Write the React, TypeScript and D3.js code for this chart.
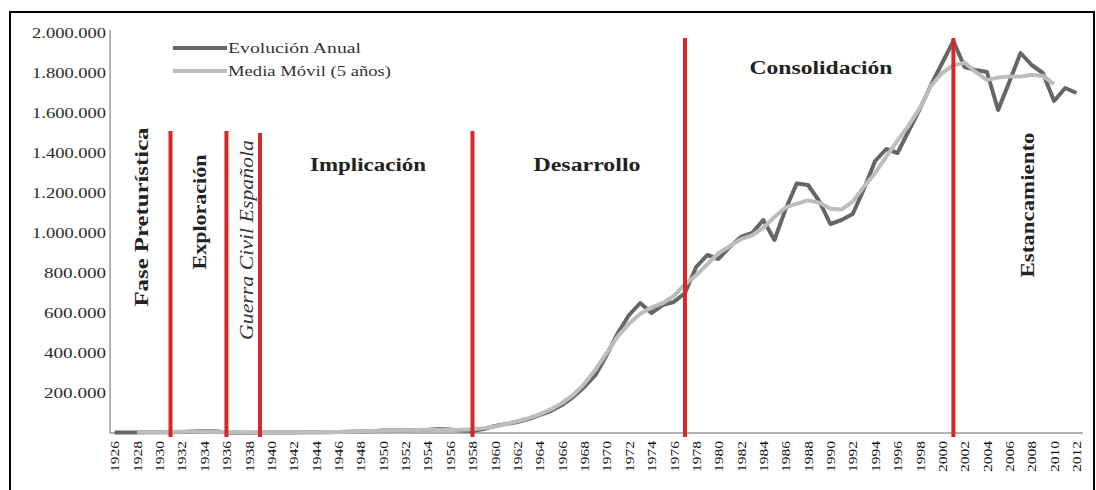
import React from "react";
import * as d3 from "d3";

const years: number[] = d3.range(1926, 2013);

// Annual tourist arrivals
const annualValues: number[] = [
  2000, 2500, 3000, 3500, 4000, 4000, 5000, 8000, 10000, 9000, // 1926-1935
  3000, 1000, 1000, 2000, 3000, 3000, 3000, 4000, 4000, 4000, // 1936-1945
  5000, 6000, 7000, 9000, 12000, 13000, 14000, 15000, 16000, 20000, // 1946-1955
  18000, 12000, 10000, 20000, 35000, 45000, 55000, 70000, 90000, 110000, // 1956-1965
  140000, 180000, 230000, 290000, 390000, 500000, 590000, 650000, 600000, 640000, // 1966-1975
  655000, 700000, 830000, 890000, 870000, 930000, 980000, 1000000, 1065000, 965000, // 1976-1985
  1120000, 1248000, 1240000, 1160000, 1045000, 1065000, 1095000, 1220000, 1360000, 1420000, // 1986-1995
  1400000, 1510000, 1620000, 1740000, 1850000, 1960000, 1830000, 1815000, 1805000, 1615000, // 1996-2005
  1755000, 1900000, 1840000, 1800000, 1660000, 1725000, 1700000, // 2006-2012
];

// 5-year moving average, years 1928-2010
const maYears: number[] = d3.range(1928, 2011);
const maValues: number[] = [
  3000, 3400, 3900, 4900, 6200, 7200, 7000, 6200, 4800, 3200, // 1928-1937
  2000, 2000, 2400, 3000, 3400, 3600, 4000, 4600, 5200, 6200, // 1938-1947
  7800, 9400, 11000, 12600, 14000, 15600, 16600, 16200, 15200, 16000, // 1948-1957
  19000, 24400, 33000, 45000, 59000, 74000, 93000, 118000, 150000, 190000, // 1958-1967
  246000, 318000, 400000, 484000, 546000, 596000, 627000, 649000, 685000, 743000, // 1968-1977
  789000, 844000, 900000, 934000, 969000, 988000, 1026000, 1080000, 1128000, 1147000, // 1978-1987
  1163000, 1152000, 1121000, 1117000, 1157000, 1232000, 1299000, 1382000, 1462000, 1538000, // 1988-1997
  1624000, 1736000, 1800000, 1839000, 1852000, 1805000, 1764000, 1778000, 1783000, 1782000, // 1998-2007
  1791000, 1785000, 1745000, // 2008-2010
];

const yTicks: number[] = [200000, 400000, 600000, 800000, 1000000, 1200000, 1400000, 1600000, 1800000, 2000000];
const xTickYears: number[] = d3.range(1926, 2013, 2);

// Phase boundaries (year, top of the marker line in value units)
const phaseYears: number[] = [1931, 1936, 1939, 1958, 1977, 2001];
const phaseTops: number[] = [1510000, 1510000, 1500000, 1510000, 1975000, 1975000];

const legendLabels: string[] = ["Evolución Anual", "Media Móvil (5 años)"];

const fmt = (v: number) => d3.format(",")(v).replace(/,/g, ".");

export default function App() {
  const W = 1096;
  const H = 490;
  const x = d3.scaleBand<number>().domain(years).range([109, 1082]).padding(0);
  const xc = (yr: number) => (x(yr) as number) + x.bandwidth() / 2;
  const y = d3.scaleLinear().domain([0, 2000000]).range([433, 33]);

  const line = d3
    .line<[number, number]>()
    .x((d) => xc(d[0]))
    .y((d) => y(d[1]))
    .curve(d3.curveLinear);

  const annualPts: [number, number][] = years.map((yr, i) => [yr, annualValues[i]]);
  const maPts: [number, number][] = maYears.map((yr, i) => [yr, maValues[i]]);

  const serif = "'Liberation Serif', 'DejaVu Serif', serif";
  const darkColor = "#666666";
  const lightColor = "#bdbdbd";
  const red = "#d8262c";

  const labelLen = (s: string) => (s.length >= 9 ? 74 : 62);

  return (
    <svg
      width={W}
      height={H}
      style={{ position: "absolute", left: 0, top: 0, background: "#fff", fontFamily: serif }}
    >
      <rect x={0} y={0} width={W} height={H} fill="#fff" />
      {/* outer frame */}
      <rect x={10} y={12} width={1084} height={490} fill="none" stroke="#000" strokeWidth={2} />

      {/* axes lines */}
      <line x1={110} x2={110} y1={30} y2={433} stroke="#9a9a9a" strokeWidth={1.5} />
      <line x1={110} x2={1083} y1={433} y2={433} stroke="#9a9a9a" strokeWidth={1.5} />

      {/* y tick labels */}
      {yTicks.map((t) => (
        <text
          key={t}
          x={106}
          y={y(t)}
          dy="0.35em"
          textAnchor="end"
          fontSize={15}
          fill="#2a2a2a"
          textLength={labelLen(fmt(t))}
          lengthAdjust="spacingAndGlyphs"
        >
          {fmt(t)}
        </text>
      ))}

      {/* x tick labels */}
      {xTickYears.map((yr) => (
        <text
          key={yr}
          transform={`translate(${xc(yr)},441) rotate(-90)`}
          dy="0.35em"
          textAnchor="end"
          fontSize={13.5}
          fill="#111"
          textLength={31}
          lengthAdjust="spacingAndGlyphs"
        >
          {yr}
        </text>
      ))}

      {/* series */}
      <path d={line(annualPts) || ""} fill="none" stroke={darkColor} strokeWidth={4} strokeLinejoin="round" />
      <path d={line(maPts) || ""} fill="none" stroke={lightColor} strokeWidth={4} strokeLinejoin="round" />

      {/* phase markers */}
      {phaseYears.map((yr, i) => (
        <line
          key={yr}
          x1={xc(yr)}
          x2={xc(yr)}
          y1={y(phaseTops[i])}
          y2={437}
          stroke={red}
          strokeWidth={4}
        />
      ))}

      {/* legend */}
      <line x1={173} x2={227} y1={48} y2={48} stroke={darkColor} strokeWidth={4} />
      <line x1={173} x2={227} y1={71} y2={71} stroke={lightColor} strokeWidth={4} />
      <text x={228} y={48} dy="0.35em" fontSize={15} fill="#333" textLength={133} lengthAdjust="spacingAndGlyphs">
        {legendLabels[0]}
      </text>
      <text x={228} y={71} dy="0.35em" fontSize={15} fill="#333" textLength={163} lengthAdjust="spacingAndGlyphs">
        {legendLabels[1]}
      </text>

      {/* phase labels */}
      <g fill="#222" fontWeight="bold" fontSize={18}>
        <text transform="translate(142,217) rotate(-90)" dy="0.35em" textAnchor="middle" textLength={179} lengthAdjust="spacingAndGlyphs">
          Fase Preturística
        </text>
        <text transform="translate(200,212) rotate(-90)" dy="0.35em" textAnchor="middle" textLength={115} lengthAdjust="spacingAndGlyphs">
          Exploración
        </text>
        <text x={368} y={165} dy="0.35em" textAnchor="middle" textLength={116} lengthAdjust="spacingAndGlyphs">
          Implicación
        </text>
        <text x={587} y={165} dy="0.35em" textAnchor="middle" textLength={107} lengthAdjust="spacingAndGlyphs">
          Desarrollo
        </text>
        <text x={821} y={68} dy="0.35em" textAnchor="middle" textLength={143} lengthAdjust="spacingAndGlyphs">
          Consolidación
        </text>
        <text transform="translate(1028,205) rotate(-90)" dy="0.35em" textAnchor="middle" textLength={145} lengthAdjust="spacingAndGlyphs">
          Estancamiento
        </text>
      </g>
      <text
        transform="translate(247,240) rotate(-90)"
        dy="0.35em"
        textAnchor="middle"
        fontSize={18}
        fontStyle="italic"
        fill="#333"
        textLength={200}
        lengthAdjust="spacingAndGlyphs"
      >
        Guerra Civil Española
      </text>
    </svg>
  );
}
